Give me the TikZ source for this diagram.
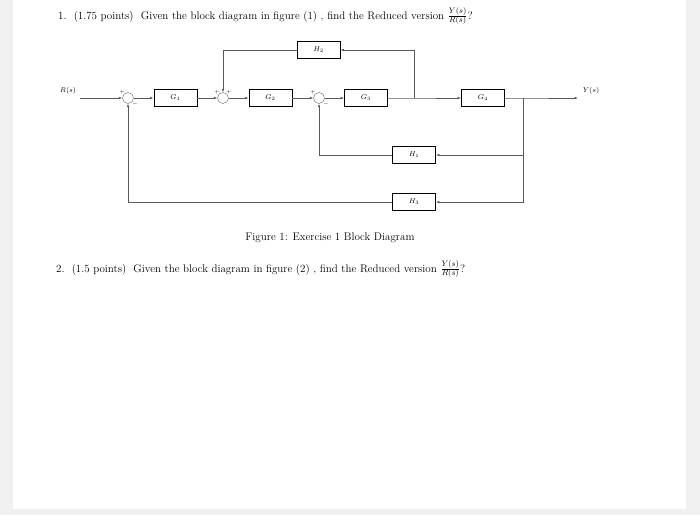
\documentclass[tikz,border=0pt]{standalone}
\usetikzlibrary{arrows.meta,calc}
\begin{document}
\begin{tikzpicture}[x=1pt,y=-1pt,
  blk/.style={draw=black,line width=0.9pt,minimum width=43pt,minimum height=17pt,inner sep=0pt,font=\fontsize{7.5}{9}\selectfont},
  sumc/.style={draw=black!60,circle,minimum size=11pt,inner sep=0pt},
  sig/.style={font=\tiny,inner sep=0pt},
  ln/.style={draw=black!65,line width=0.6pt},
  arr/.style={ln,-{Latex[length=3.5pt,width=2.5pt]}},
  txt/.style={font=\fontsize{11}{13}\selectfont,inner sep=0pt,anchor=base west}]
\fill[black!6] (0,0) rectangle (700,515);
\fill[white] (13,0) rectangle (686,509);
\useasboundingbox (0,0) rectangle (700,515);
% texts
\node[txt] (t1) at (58,19) {1.\ \ (1.75 points)\ \ Given the block diagram in figure (1)\ , find the Reduced version $\frac{Y(s)}{R(s)}$?};
\node[font=\fontsize{11}{13}\selectfont,inner sep=0pt] (cap) at (330,238) {Figure 1: Exercise 1 Block Diagram};
\node[txt] (t2) at (56,272) {2.\ \ (1.5 points)\ \ Given the block diagram in figure (2)\ , find the Reduced version $\frac{Y(s)}{R(s)}$?};
% blocks
\node[font=\fontsize{7.5}{9}\selectfont,inner sep=1pt] (R) at (68,91) {$R(s)$};
\coordinate (rin) at (80,98);
\node[sumc] (s1) at (128,98) {};
\node[blk] (G1) at (175.5,98) {$G_1$};
\node[sumc] (s2) at (223,98) {};
\node[blk] (G2) at (270.5,98) {$G_2$};
\node[sumc] (s3) at (319,98) {};
\node[blk] (G3) at (366,98) {$G_3$};
\coordinate (b1) at (414,98);
\node[blk] (G4) at (483,98) {$G_4$};
\coordinate (b2) at (523,98);
\coordinate (yout) at (578,98);
\node[font=\fontsize{7.5}{9}\selectfont,inner sep=1pt] (Y) at (591,91) {$Y(s)$};
\node[blk] (H2) at (318.5,50) {$H_2$};
\node[blk] (H1) at (414,155) {$H_1$};
\node[blk] (H3) at (414,202) {$H_3$};
% signs
\node[sig] (p1) at ($(s1)+(-6,-6)$) {$+$};
\node[sig] (m1) at ($(s1)+(7,6)$) {$-$};
\node[sig] (p2a) at ($(s2)+(-6,-6)$) {$+$};
\node[sig] (p2b) at ($(s2)+(6,-6)$) {$+$};
\node[sig] (p3) at ($(s3)+(-6,-6)$) {$+$};
\node[sig] (m3) at ($(s3)+(7,6)$) {$-$};
% forward path
\draw[arr] (rin) -- (s1);
\draw[arr] (s1) -- (G1);
\draw[arr] (G1) -- (s2);
\draw[arr] (s2) -- (G2);
\draw[arr] (G2) -- (s3);
\draw[arr] (s3) -- (G3);
\draw[arr] (G3) -- (b1) -- (G4);
\draw[arr] (G4) -- (b2) -- (yout);
% feedback loops
\draw[arr] (b1) |- (H2);
\draw[arr] (H2) -| (s2);
\draw[arr] (b2) |- (H1);
\draw[arr] (H1) -| (s3);
\draw[arr] (b2) |- (H3);
\draw[arr] (H3) -| (s1);
\end{tikzpicture}
\end{document}
